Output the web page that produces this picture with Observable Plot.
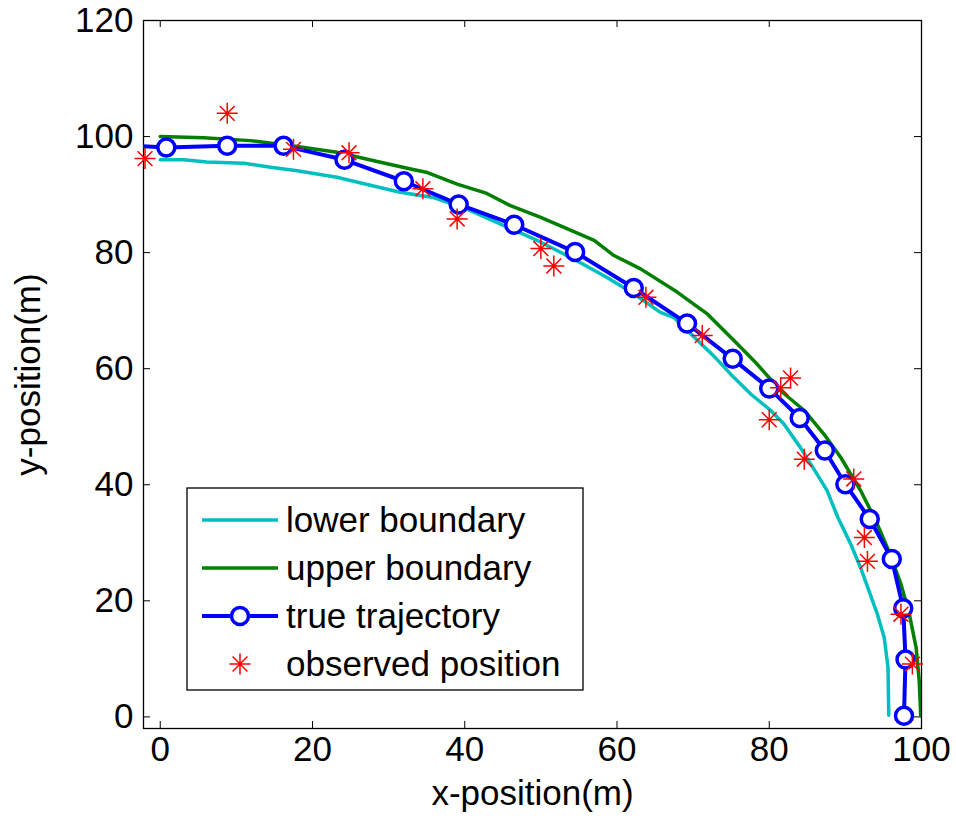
<!DOCTYPE html>
<html>
<head>
<meta charset="utf-8">
<script src="https://cdn.jsdelivr.net/npm/d3@7"></script>
<script src="https://cdn.jsdelivr.net/npm/@observablehq/plot@0.6"></script>
<style>
  html, body { margin: 0; padding: 0; background: #fff; }
  #wrap { position: relative; width: 956px; height: 820px; }
  #legend { position: absolute; left: 0; top: 0; pointer-events: none; }
</style>
</head>
<body>
<div id="wrap"></div>
<script>
// ---- data ----
const lowerX = [0, 3.1, 6.1, 11.0, 14.5, 18.0, 23.2, 27.6, 31.5, 35.9, 40.3, 45.6, 50.0, 54.3, 58.7, 62.2, 65.7, 67.5, 69.7, 72.7, 74.9, 77.6, 80.2, 81.9, 84.1, 86.3, 87.6, 89.0, 90.7, 92.0, 93.1, 94.2, 95.1, 95.6, 95.7];
const lowerY = [96.0, 96.0, 95.6, 95.4, 94.7, 94.1, 93.0, 91.6, 90.4, 89.5, 87.5, 84.4, 81.8, 78.9, 75.7, 72.9, 69.7, 68.8, 66.0, 62.2, 59.1, 55.6, 52.8, 50.5, 46.4, 41.8, 39.0, 34.4, 29.8, 25.7, 21.7, 17.7, 13.7, 8.5, 0.3];

const upperX = [0, 5.7, 11.8, 18.0, 23.2, 28.5, 32.9, 35.1, 39.0, 42.9, 46.0, 49.9, 53.5, 57.0, 59.6, 63.1, 67.9, 71.9, 75.4, 78.4, 81.5, 84.6, 87.2, 89.4, 92.0, 94.0, 95.7, 97.3, 98.4, 99.3, 99.7, 99.9];
const upperY = [100.0, 99.8, 99.3, 98.3, 97.3, 95.7, 94.4, 93.8, 91.8, 90.2, 88.1, 86.1, 84.1, 82.1, 79.5, 77.2, 73.2, 69.4, 64.8, 60.8, 56.2, 52.8, 48.7, 44.7, 39.0, 33.8, 28.6, 22.9, 17.7, 11.9, 6.2, 0.2];

const trueX = [-6.3, 0.8, 8.8, 16.2, 24.2, 32.0, 39.2, 46.5, 54.5, 62.2, 69.2, 75.2, 80.0, 84.0, 87.3, 90.0, 93.2, 96.1, 97.6, 97.9, 97.7];
const trueY = [98.6, 98.1, 98.4, 98.4, 96.0, 92.3, 88.3, 84.8, 80.1, 73.9, 67.8, 61.7, 56.6, 51.5, 45.9, 40.1, 34.1, 27.2, 18.7, 9.9, 0.2];

const obsX = [-2.0, 8.8, 17.5, 24.8, 34.5, 39.0, 50.0, 51.7, 63.8, 71.2, 82.8, 81.5, 80.0, 84.6, 91.1, 92.5, 92.9, 97.3, 98.8];
const obsY = [96.2, 104.0, 97.8, 97.2, 91.0, 85.8, 80.7, 77.7, 72.3, 65.7, 58.4, 56.7, 51.2, 44.4, 41.0, 30.9, 26.8, 17.7, 9.1];

const xTicks = [0, 20, 40, 60, 80, 100];
const yTicks = [0, 20, 40, 60, 80, 100, 120];

const seriesNames = ["lower boundary", "upper boundary", "true trajectory", "observed position"];
const seriesColors = ["#00bfbf", "#007f00", "#0000ff", "#ff0000"];

// ---- tables ----
const lower = lowerX.map((x, i) => ({x, y: lowerY[i]}));
const upper = upperX.map((x, i) => ({x, y: upperY[i]}));
const traj = trueX.map((x, i) => ({x, y: trueY[i]}));
const obs = obsX.map((x, i) => ({x, y: obsY[i]}));

// MATLAB-like '*' marker (plus + cross)
const asterisk = {
  draw(ctx, size) {
    const r = Math.sqrt(size / Math.PI);
    const d = r * Math.SQRT1_2;
    ctx.moveTo(-r, 0); ctx.lineTo(r, 0);
    ctx.moveTo(0, -r); ctx.lineTo(0, r);
    ctx.moveTo(-d, -d); ctx.lineTo(d, d);
    ctx.moveTo(-d, d); ctx.lineTo(d, -d);
  }
};

const W = 956, H = 820, ML = 143, MR = 35, MT = 20, MB = 92;
const frameW = W - ML - MR, frameH = H - MT - MB, tick = 7;

const chart = Plot.plot({
  width: W, height: H,
  marginLeft: ML, marginRight: MR, marginTop: MT, marginBottom: MB,
  style: {fontFamily: "'Liberation Sans', Arial, sans-serif", fontSize: "35px", color: "#000", background: "#fff"},
  x: {domain: [-2.2, 100]},
  y: {domain: [-2, 120]},
  marks: [
    Plot.frame({stroke: "#000", strokeWidth: 1.3}),
    // inward ticks on all four sides
    Plot.tickX(xTicks, {x: d => d, insetTop: frameH - tick, stroke: "#000"}),
    Plot.tickX(xTicks, {x: d => d, insetBottom: frameH - tick, stroke: "#000"}),
    Plot.tickY(yTicks, {y: d => d, insetRight: frameW - tick, stroke: "#000"}),
    Plot.tickY(yTicks, {y: d => d, insetLeft: frameW - tick, stroke: "#000"}),
    Plot.axisX({ticks: xTicks, tickSize: 0, tickPadding: 8, tickFormat: d => String(d),
      label: "x-position(m)", labelAnchor: "center", labelOffset: 76, labelArrow: "none"}),
    Plot.axisY({ticks: yTicks, tickSize: 0, tickPadding: 10, tickFormat: d => String(d),
      label: "y-position(m)", labelAnchor: "center", labelOffset: 128, labelArrow: "none"}),
    Plot.line(lower, {x: "x", y: "y", stroke: seriesColors[0], strokeWidth: 3.5, clip: true}),
    Plot.line(upper, {x: "x", y: "y", stroke: seriesColors[1], strokeWidth: 3.5, clip: true}),
    Plot.line(traj, {x: "x", y: "y", stroke: seriesColors[2], strokeWidth: 4, clip: true}),
    Plot.dot(traj, {x: "x", y: "y", r: 8.5, stroke: seriesColors[2], strokeWidth: 3.5, fill: "#fff", clip: true}),
    Plot.dot(obs, {x: "x", y: "y", r: 10.5, symbol: asterisk, stroke: seriesColors[3], strokeWidth: 1.5, fill: "none"})
  ]
});

const wrap = document.getElementById("wrap");
wrap.appendChild(chart);

// ---- legend (overlay) ----
const ns = "http://www.w3.org/2000/svg";
const lg = document.createElementNS(ns, "svg");
lg.setAttribute("id", "legend");
lg.setAttribute("width", W);
lg.setAttribute("height", H);
const bx = 187, by = 488, bw = 396, bh = 202, rowH = 48, row0 = 520;
const box = document.createElementNS(ns, "rect");
box.setAttribute("x", bx); box.setAttribute("y", by);
box.setAttribute("width", bw); box.setAttribute("height", bh);
box.setAttribute("fill", "#fff"); box.setAttribute("stroke", "#000"); box.setAttribute("stroke-width", "1.3");
lg.appendChild(box);
seriesNames.forEach((name, i) => {
  const cy = row0 + i * rowH;
  if (i < 3) {
    const ln = document.createElementNS(ns, "line");
    ln.setAttribute("x1", 202); ln.setAttribute("x2", 278);
    ln.setAttribute("y1", cy); ln.setAttribute("y2", cy);
    ln.setAttribute("stroke", seriesColors[i]); ln.setAttribute("stroke-width", i === 2 ? 4 : 3.5);
    lg.appendChild(ln);
    if (i === 2) {
      const c = document.createElementNS(ns, "circle");
      c.setAttribute("cx", 240); c.setAttribute("cy", cy); c.setAttribute("r", 8.5);
      c.setAttribute("fill", "#fff"); c.setAttribute("stroke", seriesColors[i]); c.setAttribute("stroke-width", 3.5);
      lg.appendChild(c);
    }
  } else {
    const p = document.createElementNS(ns, "path");
    const r = 10.5, d = r * Math.SQRT1_2, cx = 240;
    p.setAttribute("d", `M${cx - r},${cy}H${cx + r}M${cx},${cy - r}V${cy + r}M${cx - d},${cy - d}L${cx + d},${cy + d}M${cx - d},${cy + d}L${cx + d},${cy - d}`);
    p.setAttribute("stroke", seriesColors[i]); p.setAttribute("stroke-width", 1.5); p.setAttribute("fill", "none");
    lg.appendChild(p);
  }
  const t = document.createElementNS(ns, "text");
  t.setAttribute("x", 286); t.setAttribute("y", cy);
  t.setAttribute("dy", "0.35em");
  t.setAttribute("font-family", "'Liberation Sans', Arial, sans-serif");
  t.setAttribute("font-size", "35px");
  t.setAttribute("fill", "#000");
  t.textContent = name;
  lg.appendChild(t);
});
wrap.appendChild(lg);
</script>
</body>
</html>
